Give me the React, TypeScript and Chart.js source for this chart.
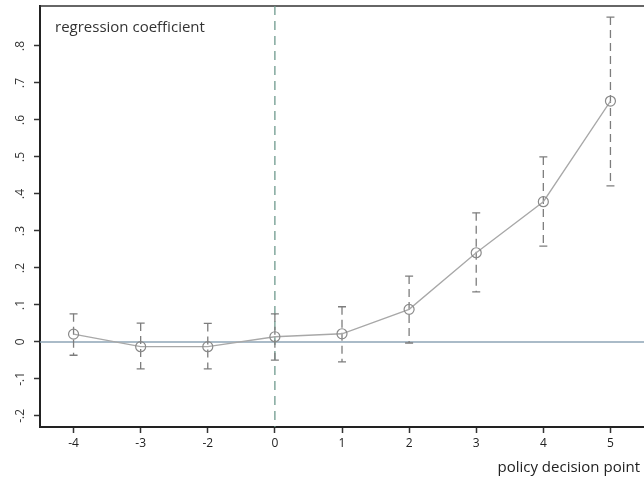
import React, { useEffect, useRef } from 'react';
import { Chart, registerables } from 'chart.js';

Chart.register(...registerables);

const periods = ['-4', '-3', '-2', '0', '1', '2', '3', '4', '5'];
const coef = [0.021, -0.013, -0.013, 0.014, 0.022, 0.088, 0.241, 0.379, 0.651];
const ciUpper = [0.076, 0.051, 0.05, 0.076, 0.095, 0.178, 0.349, 0.5, 0.878];
const ciLower = [-0.036, -0.073, -0.073, -0.049, -0.054, -0.003, 0.135, 0.259, 0.422];
const yTickValues = [-0.2, -0.1, 0, 0.1, 0.2, 0.3, 0.4, 0.5, 0.6, 0.7, 0.8];
const yTickLabels = ['-.2', '-.1', '0', '.1', '.2', '.3', '.4', '.5', '.6', '.7', '.8'];
const yMin = -0.23;
const yMax = 0.908;
const policyPeriod = '0';
const yTitle = 'regression coefficient';
const xTitle = 'policy decision point';

const FONT = '"Open Sans", "Noto Sans", sans-serif';

const overlay = {
  id: 'overlay',
  beforeDatasetsDraw(chart: any) {
    const { ctx, chartArea: a, scales } = chart;
    const x = scales.x;
    const y = scales.y;
    ctx.save();
    // top frame
    ctx.strokeStyle = '#333';
    ctx.lineWidth = 1.5;
    ctx.beginPath();
    ctx.moveTo(a.left, a.top);
    ctx.lineTo(a.right, a.top);
    ctx.stroke();
    // zero line
    const y0 = y.getPixelForValue(0);
    ctx.strokeStyle = '#8ea4b6';
    ctx.lineWidth = 1.5;
    ctx.beginPath();
    ctx.moveTo(a.left, y0);
    ctx.lineTo(a.right, y0);
    ctx.stroke();
    // policy line
    const xp = x.getPixelForValue(periods.indexOf(policyPeriod));
    ctx.strokeStyle = '#6f9a8e';
    ctx.lineWidth = 1.3;
    ctx.setLineDash([9, 6]);
    ctx.beginPath();
    ctx.moveTo(xp, a.top);
    ctx.lineTo(xp, a.bottom);
    ctx.stroke();
    // error bars
    ctx.strokeStyle = '#7d7d7d';
    ctx.lineWidth = 1.3;
    for (let i = 0; i < periods.length; i++) {
      const xi = x.getPixelForValue(i);
      const yu = y.getPixelForValue(ciUpper[i]);
      const yl = y.getPixelForValue(ciLower[i]);
      ctx.setLineDash([8, 5]);
      ctx.beginPath();
      ctx.moveTo(xi, yu);
      ctx.lineTo(xi, yl);
      ctx.stroke();
      ctx.setLineDash([]);
      ctx.beginPath();
      ctx.moveTo(xi - 4, yu);
      ctx.lineTo(xi + 4, yu);
      ctx.moveTo(xi - 4, yl);
      ctx.lineTo(xi + 4, yl);
      ctx.stroke();
    }
    ctx.restore();
  },
  afterDraw(chart: any) {
    const { ctx, scales } = chart;
    const y = scales.y;
    ctx.save();
    ctx.fillStyle = '#333';
    ctx.font = `12px ${FONT}`;
    ctx.textAlign = 'center';
    ctx.textBaseline = 'middle';
    yTickValues.forEach((v, i) => {
      const py = y.getPixelForValue(v);
      ctx.save();
      ctx.translate(21, py);
      ctx.rotate(-Math.PI / 2);
      ctx.fillText(yTickLabels[i], 0, 0);
      ctx.restore();
    });
    ctx.font = `15px ${FONT}`;
    ctx.textAlign = 'left';
    ctx.fillText(yTitle, 55, 28);
    ctx.fillStyle = '#222';
    ctx.textAlign = 'right';
    ctx.fillText(xTitle, 640, 468);
    ctx.restore();
  },
};

export default function App() {
  const ref = useRef<HTMLCanvasElement | null>(null);
  useEffect(() => {
    document.body.style.margin = '0';
    document.body.style.overflow = 'hidden';
    if (!ref.current) return;
    const chart = new Chart(ref.current, {
      type: 'line',
      data: {
        labels: periods,
        datasets: [
          {
            data: coef,
            borderColor: '#a8a8a8',
            borderWidth: 1.3,
            tension: 0,
            pointRadius: 5,
            pointStyle: 'circle',
            pointBackgroundColor: 'rgba(0,0,0,0)',
            pointBorderColor: '#8a8a8a',
            pointBorderWidth: 1.2,
          },
        ],
      },
      options: {
        responsive: false,
        animation: false,
        devicePixelRatio: 1,
        layout: { autoPadding: false, padding: { top: 6, left: 0, right: 0, bottom: 0 } },
        plugins: { legend: { display: false }, tooltip: { enabled: false } },
        scales: {
          x: {
            type: 'category',
            offset: true,
            grid: {
              display: true,
              drawOnChartArea: false,
              drawTicks: true,
              tickLength: 6,
              color: '#333',
              tickWidth: 1.5,
            },
            border: { display: true, color: '#222', width: 2 },
            ticks: { color: '#222', font: { size: 12, family: FONT }, padding: 3, maxRotation: 0 },
            afterFit: (s: any) => {
              s.height = 54;
              s.paddingLeft = 0;
              s.paddingRight = 0;
            },
          },
          y: {
            type: 'linear',
            min: yMin,
            max: yMax,
            afterBuildTicks: (s: any) => {
              s.ticks = yTickValues.map((v) => ({ value: v }));
            },
            grid: {
              display: true,
              drawOnChartArea: false,
              drawTicks: true,
              tickLength: 6,
              color: '#333',
              tickWidth: 1.5,
            },
            border: { display: true, color: '#222', width: 2 },
            ticks: { display: false },
            afterFit: (s: any) => {
              s.width = 40;
              s.paddingTop = 0;
              s.paddingBottom = 0;
            },
          },
        },
      },
      plugins: [overlay],
    });
    return () => chart.destroy();
  }, []);
  return (
    <div style={{ position: 'absolute', left: 0, top: 0, width: 644, height: 481, background: '#fff', overflow: 'hidden' }}>
      <canvas ref={ref} width={644} height={481} style={{ display: 'block' }} />
    </div>
  );
}
